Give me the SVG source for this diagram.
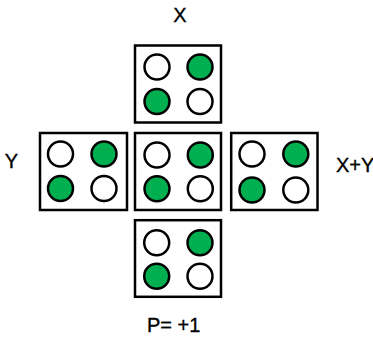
<svg xmlns="http://www.w3.org/2000/svg" width="373" height="344" viewBox="0 0 373 344">
<style>
.box{fill:#fff;stroke:#000;stroke-width:2.5}
.on{fill:#00B050;stroke:#000;stroke-width:2.5}
.off{fill:#fff;stroke:#000;stroke-width:2.5}
.lbl{font-family:"Liberation Sans",Arial,sans-serif;font-size:20px;fill:#000;stroke:#000;stroke-width:0.35}
</style>
<rect width="373" height="344" fill="#fff"/>
<g id="top">
<rect class="box" x="135" y="45.5" width="86" height="77"/>
<circle class="off" cx="157" cy="67" r="12.5"/>
<circle class="on" cx="200" cy="67" r="12.5"/>
<circle class="on" cx="157" cy="101.5" r="12.5"/>
<circle class="off" cx="200" cy="101.5" r="12.5"/>
</g>
<g id="left">
<rect class="box" x="40" y="133" width="87" height="77"/>
<circle class="off" cx="60.5" cy="154" r="12.5"/>
<circle class="on" cx="104" cy="154" r="12.5"/>
<circle class="on" cx="60.5" cy="188.5" r="12.5"/>
<circle class="off" cx="104" cy="188.5" r="12.5"/>
</g>
<g id="center">
<rect class="box" x="135" y="133" width="86" height="77"/>
<circle class="off" cx="157" cy="155" r="12.5"/>
<circle class="on" cx="200.3" cy="155" r="12.5"/>
<circle class="on" cx="157" cy="188.7" r="12.5"/>
<circle class="off" cx="200.3" cy="188.7" r="12.5"/>
</g>
<g id="right">
<rect class="box" x="231.2" y="133" width="86.3" height="77"/>
<circle class="off" cx="252" cy="154" r="12.5"/>
<circle class="on" cx="295.8" cy="154" r="12.5"/>
<circle class="on" cx="252" cy="190" r="12.5"/>
<circle class="off" cx="295.8" cy="190" r="12.5"/>
</g>
<g id="bottom">
<rect class="box" x="135" y="220.2" width="86" height="76.6"/>
<circle class="off" cx="156.7" cy="242.7" r="12.5"/>
<circle class="on" cx="200" cy="242.7" r="12.5"/>
<circle class="on" cx="156.7" cy="276.3" r="12.5"/>
<circle class="off" cx="200" cy="276.3" r="12.5"/>
</g>
<g id="connectors"></g>
<g id="labels">
<text class="lbl" x="180" y="22" text-anchor="middle">X</text>
<text class="lbl" x="11.5" y="168" text-anchor="middle">Y</text>
<text class="lbl" x="336" y="171.5">X+Y</text>
<text class="lbl" x="147" y="332">P= +1</text>
</g>
</svg>
